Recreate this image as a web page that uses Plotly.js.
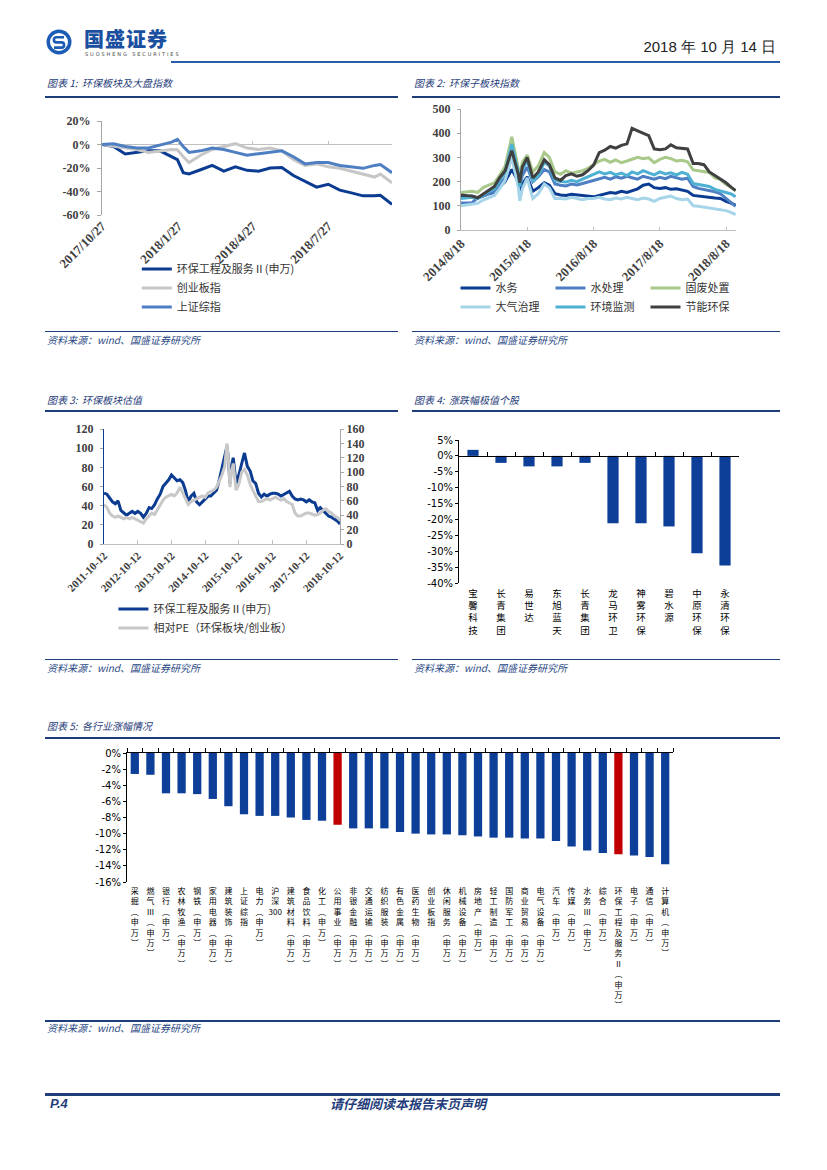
<!DOCTYPE html>
<html><head><meta charset="utf-8">
<script src="https://cdn.plot.ly/plotly-3.0.1.min.js"></script>
<style>
body{margin:0;background:#fff;}
#page{position:relative;width:827px;height:1170px;overflow:hidden;font-family:"Noto Sans CJK SC",sans-serif;background:#fff;}
.abs{position:absolute;}
.ttl{position:absolute;font-size:10px;font-style:italic;color:#1f3d7a;white-space:nowrap;line-height:12px;}
.src{position:absolute;font-size:10px;font-style:italic;color:#2b4a85;white-space:nowrap;line-height:12px;}
.hl{position:absolute;background:#1f3d7a;}
.chart{position:absolute;}
</style></head><body><div id="page">

<svg class="abs" style="left:46px;top:29px" width="26" height="26" viewBox="0 0 26 26">
<circle cx="13" cy="13" r="12.5" fill="#1d5cb4"/>
<circle cx="13" cy="13" r="9" fill="#fff"/>
<path d="M18 8.2 H10.5 a2.6 2.6 0 0 0 0 5.2 H15.5 a2.6 2.6 0 0 1 0 5.2 H8" stroke="#1d5cb4" stroke-width="2.6" fill="none"/>
</svg>
<div class="abs" style="left:84px;top:27px;font-size:20px;font-weight:900;color:#1b4fa0;letter-spacing:1px;line-height:24px;">国盛证券</div>
<div class="abs" style="left:85px;top:51px;font-size:5px;letter-spacing:1.9px;color:#444;line-height:6px;font-family:'DejaVu Sans',sans-serif;">SUOSHENG SECURITIES</div>
<div class="abs" style="right:51px;top:38px;font-size:15px;color:#222;line-height:18px;font-family:'Liberation Sans Narrow','Liberation Sans',sans-serif;">2018 年 10 月 14 日</div>
<div class="hl" style="left:171px;top:61px;width:609px;height:2px;background:#2a5caa;"></div>

<div class="ttl" style="left:47px;top:77px;">图表 1:&nbsp; 环保板块及大盘指数</div>
<div class="ttl" style="left:414px;top:77px;">图表 2:&nbsp; 环保子板块指数</div>
<div class="hl" style="left:45px;top:96px;width:353px;height:1.5px;"></div>
<div class="hl" style="left:412px;top:96px;width:368px;height:1.5px;"></div>

<div class="hl" style="left:45px;top:331px;width:353px;height:1px;"></div>
<div class="hl" style="left:412px;top:331px;width:368px;height:1px;"></div>
<div class="src" style="left:47px;top:334px;">资料来源：wind、国盛证券研究所</div>
<div class="src" style="left:414px;top:334px;">资料来源：wind、国盛证券研究所</div>

<div class="ttl" style="left:47px;top:394px;">图表 3:&nbsp; 环保板块估值</div>
<div class="ttl" style="left:414px;top:394px;">图表 4:&nbsp; 涨跌幅极值个股</div>
<div class="hl" style="left:45px;top:410px;width:353px;height:1.5px;"></div>
<div class="hl" style="left:412px;top:410px;width:368px;height:1.5px;"></div>

<div class="hl" style="left:45px;top:659px;width:353px;height:1px;"></div>
<div class="hl" style="left:412px;top:659px;width:368px;height:1px;"></div>
<div class="src" style="left:47px;top:662px;">资料来源：wind、国盛证券研究所</div>
<div class="src" style="left:414px;top:662px;">资料来源：wind、国盛证券研究所</div>

<div class="ttl" style="left:47px;top:720px;">图表 5:&nbsp; 各行业涨幅情况</div>
<div class="hl" style="left:45px;top:737px;width:735px;height:1.5px;"></div>

<div class="hl" style="left:45px;top:1020px;width:735px;height:1.5px;"></div>
<div class="src" style="left:47px;top:1022px;">资料来源：wind、国盛证券研究所</div>

<div class="hl" style="left:45px;top:1093px;width:735px;height:3px;"></div>
<div class="abs" style="left:50px;top:1096px;font-size:13px;font-weight:bold;font-style:italic;color:#1f3d7a;line-height:16px;font-family:'Liberation Sans',sans-serif;">P.4</div>
<div class="abs" style="left:330px;top:1096px;font-size:13px;font-weight:bold;font-style:italic;color:#1f3d7a;line-height:16px;">请仔细阅读本报告末页声明</div>

<div id="c1" class="chart" style="left:40px;top:100px;width:360px;height:230px;"></div>
<div id="c2" class="chart" style="left:410px;top:100px;width:370px;height:230px;"></div>
<div id="c3" class="chart" style="left:40px;top:415px;width:360px;height:240px;"></div>
<div id="c4" class="chart" style="left:410px;top:415px;width:370px;height:240px;"></div>
<div id="c5" class="chart" style="left:80px;top:740px;width:620px;height:280px;"></div>
</div>
<script>
// ---------------- Chart 1 data ----------------
var dates1 = ['2017-10-27','2017-11-10','2017-11-24','2017-12-08','2017-12-22','2018-01-05','2018-01-19','2018-01-26','2018-02-02','2018-02-09','2018-02-23','2018-03-09','2018-03-23','2018-04-06','2018-04-20','2018-05-04','2018-05-18','2018-06-01','2018-06-15','2018-06-29','2018-07-13','2018-07-27','2018-08-10','2018-08-24','2018-09-07','2018-09-21','2018-09-28','2018-10-12'];
var env1 = [0,-1.7,-8,-6.7,-5.4,-5.4,-10.4,-12.8,-24,-25,-21.5,-17.8,-22.7,-19,-22,-22.7,-20,-19.5,-26.4,-31.4,-36.3,-33.8,-38.8,-41.2,-43.7,-43.7,-43.2,-51];
var gem1 = [0,-1.2,-3,-4.2,-6.7,-5.4,-4.2,-4.5,-10.4,-15.3,-9.1,-4.2,-1.7,0.7,-3,-4.2,-3,-5.4,-12.8,-17.8,-16.5,-19,-20.3,-22.7,-25.2,-27.7,-25.2,-32.6];
var sh1 = [0,0.7,-1.7,-3,-3,-0.5,2,4.4,-1.7,-6.7,-5.4,-3,-4.2,-6.7,-9.1,-7.9,-6.7,-5.4,-10.4,-16.5,-15.3,-15.3,-17.8,-19,-20.3,-17.8,-17,-24];
var names1 = ['环保工程及服务Ⅱ(申万)','创业板指','上证综指'];
var xTicks1 = ['2017-10-27','2018-01-27','2018-04-27','2018-07-27'];
var xTickText1 = ['2017/10/27','2018/1/27','2018/4/27','2018/7/27'];
var yTicks1 = [-60,-40,-20,0,20];
var yTickText1 = ['-60%','-40%','-20%','0%','20%'];

// ---------------- Chart 2 data ----------------
var dates2 = ['2014-08-18','2014-10-18','2014-11-18','2014-12-18','2015-01-18','2015-02-18','2015-03-18','2015-04-18','2015-05-25','2015-06-30','2015-07-08','2015-07-22','2015-08-18','2015-09-18','2015-10-18','2015-11-20','2015-12-18','2016-01-18','2016-02-18','2016-03-18','2016-04-18','2016-05-18','2016-06-18','2016-07-18','2016-08-18','2016-09-18','2016-10-18','2016-11-18','2016-12-18','2017-01-18','2017-02-18','2017-03-18','2017-04-18','2017-05-18','2017-06-18','2017-07-18','2017-08-18','2017-09-18','2017-10-18','2017-11-18','2017-12-18','2018-01-18','2018-02-18','2018-03-18','2018-04-18','2018-05-18','2018-06-18','2018-07-18','2018-08-18','2018-09-18','2018-10-10'];
var water2 = [135,140,132,140,150,155,178,200,250,200,150,190,220,160,175,195,185,150,145,143,148,145,140,138,137,143,150,155,152,160,155,162,170,185,190,175,172,175,168,170,165,160,143,140,138,135,132,130,118,110,102];
var waterTreat2 = [112,112,135,140,150,158,190,215,300,220,180,225,260,200,220,250,240,190,185,182,190,186,192,198,204,212,218,210,220,214,222,216,210,222,215,210,218,212,222,215,210,214,180,172,168,162,158,150,130,112,98];
var solid2 = [155,160,155,175,185,195,225,262,385,260,225,280,310,240,265,320,300,240,230,245,235,240,245,255,270,285,292,280,290,278,285,292,300,295,298,278,292,300,295,285,288,282,248,245,242,238,215,208,188,175,162];
var air2 = [100,106,110,124,135,143,170,205,300,175,120,170,215,130,150,190,175,130,130,128,135,130,125,130,130,135,128,125,132,128,135,130,125,132,128,118,130,135,140,130,125,128,100,98,95,92,88,85,80,72,63];
var monitor2 = [130,135,130,145,160,170,205,240,355,240,180,250,290,200,225,280,265,205,200,198,205,200,210,220,228,240,232,238,228,235,225,240,232,245,236,228,240,232,236,228,238,230,192,188,182,180,168,160,155,148,137];
var energy2 = [145,140,133,148,165,180,215,245,328,230,195,260,300,215,240,290,270,215,205,225,232,222,228,245,268,320,330,345,338,350,356,420,410,400,390,335,332,335,352,340,338,335,275,275,270,240,225,210,195,175,163];
var names2 = ['水务','水处理','固废处置','大气治理','环境监测','节能环保'];
var xTicks2 = ['2014-08-18','2015-08-18','2016-08-18','2017-08-18','2018-08-18'];
var xTickText2 = ['2014/8/18','2015/8/18','2016/8/18','2017/8/18','2018/8/18'];

// ---------------- Chart 3 data ----------------
var dates3 = ['2011-10-12','2011-11-12','2011-12-12',
'2012-01-12','2012-02-12','2012-03-12','2012-04-12','2012-05-12','2012-06-12','2012-07-12','2012-08-12','2012-09-12','2012-10-12','2012-11-12','2012-12-12',
'2013-01-12','2013-02-12','2013-03-12','2013-04-12','2013-05-12','2013-06-12','2013-07-12','2013-08-12','2013-09-12','2013-10-12','2013-11-12','2013-12-12',
'2014-01-12','2014-02-12','2014-03-12','2014-04-12','2014-05-12','2014-06-12','2014-07-12','2014-08-12','2014-09-12','2014-10-12','2014-11-12','2014-12-12',
'2015-01-12','2015-02-12','2015-03-12','2015-04-12','2015-05-12','2015-06-05','2015-06-20','2015-07-08','2015-07-20','2015-08-12','2015-09-12','2015-10-12','2015-11-12','2015-12-12',
'2016-01-12','2016-02-12','2016-03-12','2016-04-12','2016-05-12','2016-06-12','2016-07-12','2016-08-12','2016-09-12','2016-10-12','2016-11-12','2016-12-12',
'2017-01-12','2017-02-12','2017-03-12','2017-04-12','2017-05-12','2017-06-12','2017-07-12','2017-08-12','2017-09-12','2017-10-12','2017-11-12','2017-12-12',
'2018-01-12','2018-02-12','2018-03-12','2018-04-12','2018-05-12','2018-06-12','2018-07-12','2018-08-12','2018-09-12','2018-10-12'];
var pe3 = [53,52,48,
44,42,45,35,32,30,32,34,32,34,32,28,
32,38,37,41,47,52,60,63,67,72,69,66,
67,64,56,44,50,53,44,41,44,47,50,50,
53,56,66,78,90,102,90,63,78,90,63,72,84,95,
81,76,66,63,53,49,52,50,52,53,53,52,
50,52,53,55,50,47,46,47,46,44,46,44,
43,35,38,35,32,29,28,26,24,21];
var relPe3 = [55,51,43,
39,37,39,37,35,37,35,37,35,33,31,29,
35,39,43,41,47,55,61,65,67,69,67,71,
79,71,63,55,59,61,63,65,67,65,71,73,
75,79,87,96,108,140,120,79,96,112,75,83,100,104,
96,83,75,67,59,59,61,63,61,63,65,63,
61,63,59,57,55,43,39,39,41,43,43,41,
40,41,43,47,49,45,43,39,37,33];
var names3 = ['环保工程及服务Ⅱ(申万)','相对PE（环保板块/创业板）'];
var xTicks3 = ['2011-10-12','2012-10-12','2013-10-12','2014-10-12','2015-10-12','2016-10-12','2017-10-12','2018-10-12'];

// ---------------- Chart 4 data ----------------
var stocks4 = ['宝馨科技','长青集团','易世达','东旭蓝天','长青集团','龙马环卫','神雾环保','碧水源','中原环保','永清环保'];
var change4 = [1.9,-2.2,-3.3,-3.3,-2.2,-21.2,-21.2,-22.2,-30.6,-34.5];
var yTicks4 = [5,0,-5,-10,-15,-20,-25,-30,-35,-40];
var yTickText4 = ['5%','0%','-5%','-10%','-15%','-20%','-25%','-30%','-35%','-40%'];

// ---------------- Chart 5 data ----------------
var sectors5 = ['采掘(申万)','燃气Ⅲ(申万)','银行(申万)','农林牧渔(申万)','钢铁(申万)','家用电器(申万)','建筑装饰(申万)','上证综指','电力(申万)','沪深300','建筑材料(申万)','食品饮料(申万)','化工(申万)','公用事业(申万)','非银金融(申万)','交通运输(申万)','纺织服装(申万)','有色金属(申万)','医药生物(申万)','创业板指','休闲服务(申万)','机械设备(申万)','房地产(申万)','轻工制造(申万)','国防军工(申万)','商业贸易(申万)','电气设备(申万)','汽车(申万)','传媒(申万)','水务Ⅲ(申万)','综合(申万)','环保工程及服务Ⅱ(申万)','电子(申万)','通信(申万)','计算机(申万)'];
var change5 = [-2.6,-2.7,-5.0,-5.0,-5.1,-5.7,-6.6,-7.6,-7.8,-7.8,-8.0,-8.3,-8.4,-8.9,-9.35,-9.35,-9.35,-9.8,-10.0,-10.1,-10.1,-10.2,-10.35,-10.5,-10.5,-10.6,-10.6,-10.9,-11.6,-12.1,-12.4,-12.55,-12.7,-12.9,-13.8];
var highlight5 = ['公用事业(申万)','环保工程及服务Ⅱ(申万)'];
var yTicks5 = [0,-2,-4,-6,-8,-10,-12,-14,-16];
var yTickText5 = ['0%','-2%','-4%','-6%','-8%','-10%','-12%','-14%','-16%'];

// ---------------- helpers ----------------
var cfg = {staticPlot:true, displayModeBar:false};
var NAVY = '#0b3c91', BAR = '#0d3f98', RED = '#c00000';
function serif(sz){ return {family:'Liberation Serif, Times New Roman, serif', size:sz, color:'#404040', weight:'bold'}; }
var cjkLegend = {family:'Noto Sans CJK SC, sans-serif', size:11, color:'#333'};
var blank = {paper_bgcolor:'rgba(0,0,0,0)', plot_bgcolor:'rgba(0,0,0,0)'};
function vert(s){
  var out=[], buf='';
  for (var ch of s){
    if (/[0-9A-Za-z]/.test(ch)) { buf+=ch; continue; }
    if (buf){ out.push(buf); buf=''; }
    if (ch==='(') ch='︵'; else if (ch===')') ch='︶';
    out.push(ch);
  }
  if (buf) out.push(buf);
  return out.join('<br>');
}
function idx(arr){ return arr.map(function(_,i){return i;}); }
function bounds(n){ var b=[]; for(var i=0;i<=n;i++) b.push(i-0.5); return b; }
function zeroPos(r){ return (0-r[0])/(r[1]-r[0]); }
function L(o){ return Object.assign({}, blank, o); }

// ---------------- Chart 1 ----------------
(function(){
  var r1 = ['2017-10-27','2018-10-12'], yr = [-60,20];
  var series = [env1, gem1, sh1], cols = [NAVY,'#c6c6c6','#4f7fc3'];
  var tr = series.map(function(s,i){ return {x:dates1, y:s, name:names1[i], type:'scatter', mode:'lines', line:{color:cols[i], width:3}}; });
  tr.push({x:[dates1[0]], y:[null], xaxis:'x2', showlegend:false, hoverinfo:'skip', type:'scatter'});
  Plotly.newPlot('c1', tr, L({
    width:360, height:230, margin:{l:62,r:8,t:21,b:102},
    showlegend:true,
    legend:{x:0.12, y:-0.42, xanchor:'left', yanchor:'top', font:cjkLegend, bgcolor:'rgba(0,0,0,0)', traceorder:'normal'},
    xaxis:{type:'date', range:r1, tickvals:xTicks1, ticktext:xTickText1, tickangle:-45, showline:false, showgrid:false, zeroline:false, ticks:'', tickfont:serif(13)},
    xaxis2:{type:'date', overlaying:'x', anchor:'free', position:zeroPos(yr), range:r1, tickvals:xTicks1, showticklabels:false, ticks:'inside', ticklen:4, tickcolor:'#bfbfbf', showline:false, showgrid:false, zeroline:false},
    yaxis:{range:yr, tickvals:yTicks1, ticktext:yTickText1, showline:true, linecolor:'#a6a6a6', ticks:'outside', ticklen:4, tickcolor:'#a6a6a6', showgrid:false, zeroline:true, zerolinecolor:'#c0c0c0', zerolinewidth:1, tickfont:serif(12), ticklabelstandoff:4}
  }), cfg);
})();

// ---------------- Chart 2 ----------------
(function(){
  var r2 = ['2014-08-18','2018-10-12'];
  var series = [water2, waterTreat2, solid2, air2, monitor2, energy2];
  var cols = [NAVY,'#4f7fc3','#a8c98a','#a6d5ea','#4eb1d3','#404040'];
  var tr = series.map(function(s,i){ return {x:dates2, y:s, name:names2[i], type:'scatter', mode:'lines', line:{color:cols[i], width:3}}; });
  Plotly.newPlot('c2', tr, L({
    width:370, height:230, margin:{l:51,r:44,t:9,b:84},
    showlegend:true,
    legend:{orientation:'h', x:-0.02, xanchor:'left', y:-0.36, yanchor:'top', entrywidth:50, font:cjkLegend, bgcolor:'rgba(0,0,0,0)', traceorder:'normal'},
    xaxis:{type:'date', range:r2, tickvals:xTicks2, ticktext:xTickText2, tickangle:-45, showline:true, linecolor:'#bfbfbf', ticks:'inside', ticklen:3, tickcolor:'#bfbfbf', showgrid:false, zeroline:false, tickfont:serif(13)},
    yaxis:{range:[0,500], dtick:100, showline:true, linecolor:'#a6a6a6', ticks:'outside', ticklen:3, tickcolor:'#a6a6a6', showgrid:false, zeroline:false, tickfont:serif(12), ticklabelstandoff:4}
  }), cfg);
})();

// ---------------- Chart 3 ----------------
(function(){
  var r3 = ['2011-10-12','2018-10-12'];
  var tr = [
    {x:dates3, y:pe3, name:names3[0], type:'scatter', mode:'lines', line:{color:NAVY, width:3}},
    {x:dates3, y:relPe3, name:names3[1], type:'scatter', mode:'lines', yaxis:'y2', line:{color:'#c8c8c8', width:3}}
  ];
  Plotly.newPlot('c3', tr, L({
    width:360, height:240, margin:{l:64,r:60,t:14,b:95},
    showlegend:true,
    legend:{x:0.04, y:-0.44, xanchor:'left', yanchor:'top', font:cjkLegend, bgcolor:'rgba(0,0,0,0)', traceorder:'normal'},
    xaxis:{type:'date', range:r3, tickvals:xTicks3, ticktext:xTicks3, tickangle:-45, showline:true, linecolor:'#bfbfbf', ticks:'inside', ticklen:4, tickcolor:'#bfbfbf', showgrid:false, zeroline:false, tickfont:serif(11)},
    yaxis:{range:[0,120], dtick:20, showline:true, linecolor:NAVY, ticks:'outside', ticklen:3, tickcolor:'#a6a6a6', showgrid:false, zeroline:false, tickfont:serif(12), ticklabelstandoff:4},
    yaxis2:{range:[0,160], dtick:20, overlaying:'y', side:'right', showline:true, linecolor:'#a6a6a6', ticks:'outside', ticklen:3, tickcolor:'#a6a6a6', showgrid:false, zeroline:false, tickfont:serif(12)}
  }), cfg);
})();

// ---------------- Chart 4 ----------------
(function(){
  var xr = [-0.5, stocks4.length-0.5], yr = [-40,5];
  var tr = [
    {x:idx(stocks4), y:change4, type:'bar', width:0.4, marker:{color:BAR}, showlegend:false},
    {x:[0], y:[null], xaxis:'x2', type:'scatter', showlegend:false, hoverinfo:'skip'}
  ];
  Plotly.newPlot('c4', tr, L({
    width:370, height:240, margin:{l:49,r:41,t:25,b:72},
    showlegend:false,
    xaxis:{range:xr, tickvals:idx(stocks4), ticktext:stocks4.map(vert), tickangle:0, showline:false, ticks:'', showgrid:false, zeroline:false, tickfont:{family:'Noto Sans CJK SC, sans-serif', size:9.5, color:'#000'}, ticklabelstandoff:3},
    xaxis2:{range:xr, overlaying:'x', anchor:'free', position:zeroPos(yr), tickvals:bounds(stocks4.length), showticklabels:false, ticks:'inside', ticklen:4, tickcolor:'#000', showline:true, linecolor:'#000', showgrid:false, zeroline:false},
    yaxis:{range:yr, tickvals:yTicks4, ticktext:yTickText4, showline:true, linecolor:'#000', ticks:'outside', ticklen:3, tickcolor:'#000', showgrid:false, zeroline:false, tickfont:{family:'DejaVu Sans, sans-serif', size:10, color:'#000'}}
  }), cfg);
})();

// ---------------- Chart 5 ----------------
(function(){
  var xr = [-0.5, sectors5.length-0.5], yr = [-16,0];
  var colors = sectors5.map(function(s){ return highlight5.indexOf(s)>=0 ? RED : BAR; });
  var tr = [
    {x:idx(sectors5), y:change5, type:'bar', width:0.53, marker:{color:colors}, showlegend:false},
    {x:[0], y:[null], xaxis:'x2', type:'scatter', showlegend:false, hoverinfo:'skip'}
  ];
  Plotly.newPlot('c5', tr, L({
    width:620, height:280, margin:{l:47,r:27,t:13,b:138},
    showlegend:false,
    xaxis:{range:xr, tickvals:idx(sectors5), ticktext:sectors5.map(vert), tickangle:0, showline:false, ticks:'', showgrid:false, zeroline:false, tickfont:{family:'Noto Sans CJK SC, sans-serif', size:8, color:'#000'}, ticklabelstandoff:3},
    xaxis2:{range:xr, overlaying:'x', side:'top', anchor:'y', tickvals:bounds(sectors5.length), showticklabels:false, ticks:'outside', ticklen:4, tickcolor:'#000', showline:true, linecolor:'#000', showgrid:false, zeroline:false},
    yaxis:{range:yr, tickvals:yTicks5, ticktext:yTickText5, showline:true, linecolor:'#000', ticks:'outside', ticklen:3, tickcolor:'#000', showgrid:false, zeroline:false, tickfont:{family:'DejaVu Sans, sans-serif', size:10, color:'#000'}}
  }), cfg);
})();
</script>
</body></html>
